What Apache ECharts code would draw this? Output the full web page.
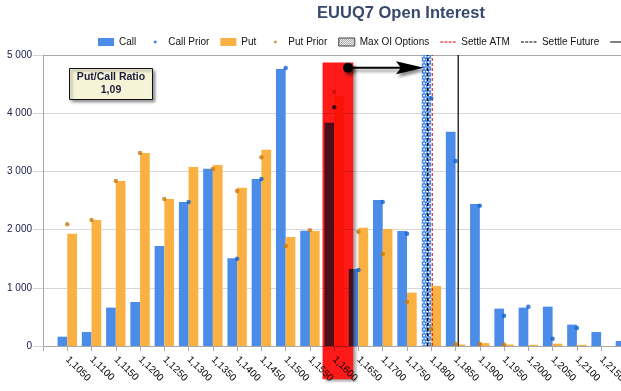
<!DOCTYPE html>
<html>
<head>
<meta charset="utf-8">
<script src="https://cdn.jsdelivr.net/npm/echarts@6/dist/echarts.min.js"></script>
<style>
html,body{margin:0;padding:0;overflow:hidden;background:#fff;width:621px;height:391px}
#c{width:802px;height:391px}
</style>
</head>
<body>
<div id="c"></div>
<script>
// ---- data ----
const strikes = ['1,1000','1,1050','1,1100','1,1150','1,1200','1,1250','1,1300','1,1350','1,1400','1,1450',
  '1,1500','1,1550','1,1600','1,1650','1,1700','1,1750','1,1800','1,1850','1,1900','1,1950',
  '1,2000','1,2050','1,2100','1,2150','1,2200','1,2250','1,2300','1,2350','1,2400','1,2450','1,2500'];
const callOI = [null,160,240,660,756,1718,2474,3047,1506,2869,
  4759,1982,3837,1323,2509,1976,null,3683,2440,642,
  659,676,367,240,86,null,null,null,null,null,null];
const putOI = [null,1930,2165,2835,3316,2526,3076,3110,2721,3373,
  1873,1976,4300,2033,2010,917,1031,25,50,25,
  20,40,20,0,null,null,null,null,null,null,null];
const callPrior = [null,null,null,null,null,null,2474,null,1500,2869,
  4777,null,4101,1306,2474,1930,4256,3179,2411,521,
  676,125,309,null,null,null,null,null,null,null,null];
const putPrior = [null,2090,2165,2835,3316,2526,null,3041,2663,3242,
  1718,1988,4370,1964,1581,761,287,34,34,25,
  null,null,null,null,null,null,null,null,null,null,null];
const yMax = 5000;
const yStep = 1000;
const putCallRatio = '1,09';
const maxOIStrike = '1,1800';
const priorMaxStrike = '1,1600';
const settleATM = 1.1802;
const settleFuture = 1.17925;
const lastFuture = 1.18555;
const arrowLevel = 4780;
const boxTop = 4870;
const boxBottom = -570;

// ---- helpers ----
const strikeNum = s => parseFloat(s.replace(',', '.'));
const s0 = strikeNum(strikes[0]);
const sStep = strikeNum(strikes[1]) - s0;
const fidx = v => (v - s0) / sStep;
function px(api, f, v) {
  const i = Math.floor(f);
  const a = api.coord([i, v]);
  const b = api.coord([i + 1, v]);
  return [a[0] + (b[0] - a[0]) * (f - i), a[1]];
}
function makeLegendPattern(fg, bg) {
  const c = document.createElement('canvas');
  c.width = 4; c.height = 4;
  const g = c.getContext('2d');
  g.fillStyle = bg; g.fillRect(0, 0, 4, 4);
  g.fillStyle = fg;
  for (let y = 0; y < 4; y++) for (let x = 0; x < 4; x++) {
    if ((x + y) % 2 === 0) g.fillRect(x, y, 1, 1);
  }
  return { image: c, repeat: 'repeat' };
}
const CALL = '#4a8ce8', PUT = '#fbb142', CALLP = '#1262d0', PUTP = '#c8780f';
const HATCH = '#3f86ea';
const FONT = 'Liberation Sans';
const dotIcon = 'path://M0,0L16,8L0,0Z M6.7,2.7h2.6v2.6h-2.6Z';
const dashIcon = 'path://M0,0L16,8L0,0Z M0,3.5h3v1h-3Z M4.2,3.5h3v1h-3Z M8.4,3.5h3v1h-3Z M12.6,3.5h3v1h-3Z';
const solidIcon = 'path://M0,0L16,8L0,0Z M0,3.4h16v1.2h-16Z';

function vline(strikeVal, color, width, dash) {
  return function (params, api) {
    const f = fidx(strikeVal);
    const a = px(api, f, 0), b = px(api, f, yMax);
    return { type: 'line', silent: true,
      shape: { x1: a[0], y1: a[1], x2: b[0], y2: b[1] },
      style: { stroke: color, lineWidth: width, lineDash: dash } };
  };
}

const fmtThousands = v => String(v).replace(/\B(?=(\d{3})+(?!\d))/g, ' ');

const chart = echarts.init(document.getElementById('c'), null, { renderer: 'canvas', width: 802, height: 391 });
chart.setOption({
  animation: false,
  textStyle: { fontFamily: FONT },
  title: [
    { text: 'EUUQ7 Open Interest', left: 'center', top: 0,
      textStyle: { fontSize: 16.5, fontWeight: 'bold', color: '#38476c', fontFamily: FONT } },
    { text: 'Put/Call Ratio\n' + putCallRatio, left: 103, top: 68, textAlign: 'center',
      padding: [3, 8], backgroundColor: '#f6f4d8', borderColor: '#111', borderWidth: 1,
      shadowColor: 'rgba(0,0,0,0.45)', shadowBlur: 3, shadowOffsetX: 2, shadowOffsetY: 2,
      textStyle: { fontSize: 10.5, fontWeight: 'bold', color: '#1c1c3c', lineHeight: 13, fontFamily: FONT } }
  ],
  legend: {
    left: 93, top: 32, itemWidth: 16, itemHeight: 8, itemGap: 11,
    textStyle: { fontSize: 10, color: '#111', fontFamily: FONT },
    data: [
      { name: 'Call', icon: 'rect' },
      { name: 'Call Prior', icon: dotIcon },
      { name: 'Put', icon: 'rect' },
      { name: 'Put Prior', icon: dotIcon },
      { name: 'Max OI Options', icon: 'rect', itemStyle: { color: makeLegendPattern('#9a9a9a', '#ffffff'), borderColor: '#444', borderWidth: 1 } },
      { name: 'Settle ATM', icon: dashIcon },
      { name: 'Settle Future', icon: dashIcon },
      { name: 'Last Future', icon: solidIcon }
    ]
  },
  grid: { left: 43, top: 55, right: 31, bottom: 45 },
  xAxis: {
    type: 'category', data: strikes, boundaryGap: false,
    axisLine: { lineStyle: { color: '#a8a8a8' } },
    axisTick: { length: 5, interval: 0, lineStyle: { color: '#a8a8a8' } },
    axisLabel: { rotate: -45, interval: 0, fontSize: 10, color: '#000', margin: 12,
      formatter: (v, i) => (i === 0 ? '' : v) },
    splitLine: { show: false }
  },
  yAxis: {
    type: 'value', min: 0, max: yMax, interval: yStep,
    axisLine: { show: true, lineStyle: { color: '#a8a8a8' } },
    axisTick: { show: true, length: 10, lineStyle: { color: '#d4d4d4' } },
    axisLabel: { margin: 11, fontSize: 10, color: '#20204e', formatter: fmtThousands },
    splitLine: { lineStyle: { color: ['#d8d8d8', '#d8d8d8', '#d8d8d8', '#d8d8d8', '#d8d8d8', '#a8a8a8'] } }
  },
  series: [
    { name: 'Call', type: 'bar', data: callOI, itemStyle: { color: CALL }, barGap: '0%', barCategoryGap: '20%', z: 2 },
    { name: 'Put', type: 'bar', data: putOI, itemStyle: { color: PUT }, z: 2 },
    { name: 'Max OI Options', type: 'custom', data: [0], z: 3,
      itemStyle: { color: HATCH },
      renderItem: function (params, api) {
        const i = strikes.indexOf(maxOIStrike);
        const tl = px(api, i - 0.4, yMax), br = px(api, i, 0);
        const x0 = tl[0], y0 = tl[1], w = br[0] - tl[0], h = br[1] - tl[1];
        const kids = [{ type: 'rect', shape: { x: x0, y: y0, width: w, height: h }, style: { fill: HATCH } }];
        let row = 0;
        for (let y = y0 + 1.5; y < y0 + h; y += 3, row++) {
          for (let x = x0 + (row % 2 ? 2.5 : 1); x < x0 + w; x += 3) {
            kids.push({ type: 'circle', shape: { cx: x, cy: y, r: 0.95 }, style: { fill: '#ffffff' } });
          }
        }
        return { type: 'group', silent: true,
          clipPath: { type: 'rect', shape: { x: x0, y: y0, width: w, height: h } },
          children: kids };
      } },
    { name: 'Settle ATM', type: 'custom', data: [0], z: 4, itemStyle: { color: '#e00000' },
      renderItem: vline(settleATM, '#e00000', 1, [3, 2]) },
    { name: 'Settle Future', type: 'custom', data: [0], z: 4, itemStyle: { color: '#000' },
      renderItem: vline(settleFuture, '#000', 1.5, [3, 2]) },
    { name: 'Last Future', type: 'custom', data: [0], z: 4, itemStyle: { color: '#000' },
      renderItem: vline(lastFuture, '#000', 1.2, null) },
    { name: 'Call Prior', type: 'scatter', data: callPrior, symbolSize: 4.5, itemStyle: { color: CALLP }, z: 5 },
    { name: 'Put Prior', type: 'scatter', data: putPrior, symbolSize: 4.5, itemStyle: { color: PUTP }, z: 5 },
    { name: 'priorMax', type: 'custom', data: [0], z: 10, blendMode: 'multiply',
      renderItem: function (params, api) {
        const i = strikes.indexOf(priorMaxStrike);
        const tl = px(api, i - 0.48, boxTop), br = px(api, i + 0.79, boxBottom);
        return { type: 'rect', silent: true,
          shape: { x: tl[0], y: tl[1], width: br[0] - tl[0], height: br[1] - tl[1] },
          style: { fill: '#ff1a1a' } };
      } },
    { name: 'priorMaxShadow', type: 'custom', data: [0], z: 10,
      renderItem: function (params, api) {
        const i = strikes.indexOf(priorMaxStrike);
        const tl = px(api, i - 0.48, boxTop), br = px(api, i + 0.79, boxBottom);
        const L = tl[0], T = tl[1], R = br[0], B = br[1];
        return { type: 'group', silent: true, children: [
          { type: 'rect', shape: { x: R, y: T + 3, width: 5, height: B - T },
            style: { fill: new echarts.graphic.LinearGradient(0, 0, 1, 0, [
              { offset: 0, color: 'rgba(0,0,0,0.38)' }, { offset: 1, color: 'rgba(0,0,0,0)' }]) } },
          { type: 'rect', shape: { x: L + 3, y: B, width: R - L - 3, height: 4 },
            style: { fill: new echarts.graphic.LinearGradient(0, 0, 0, 1, [
              { offset: 0, color: 'rgba(0,0,0,0.38)' }, { offset: 1, color: 'rgba(0,0,0,0)' }]) } }
        ] };
      } },
    { name: 'arrow', type: 'custom', data: [0], z: 11,
      renderItem: function (params, api) {
        const i0 = strikes.indexOf(priorMaxStrike), i1 = strikes.indexOf(maxOIStrike);
        const a = px(api, i0 + 0.57, arrowLevel), b = px(api, i1 - 0.3, arrowLevel);
        const sh = { shadowBlur: 3, shadowColor: 'rgba(0,0,0,0.45)', shadowOffsetX: 2, shadowOffsetY: 3 };
        return { type: 'group', silent: true, children: [
          { type: 'line', shape: { x1: a[0], y1: a[1], x2: b[0] - 22, y2: b[1] }, style: Object.assign({ stroke: '#000', lineWidth: 2 }, sh) },
          { type: 'circle', shape: { cx: a[0], cy: a[1], r: 5 }, style: Object.assign({ fill: '#000' }, sh) },
          { type: 'polygon', shape: { points: [[b[0], b[1]], [b[0] - 28, b[1] - 6.5], [b[0] - 23, b[1]], [b[0] - 28, b[1] + 6.5]] }, style: Object.assign({ fill: '#000' }, sh) }
        ] };
      } }
  ]
});
</script>
</body>
</html>
